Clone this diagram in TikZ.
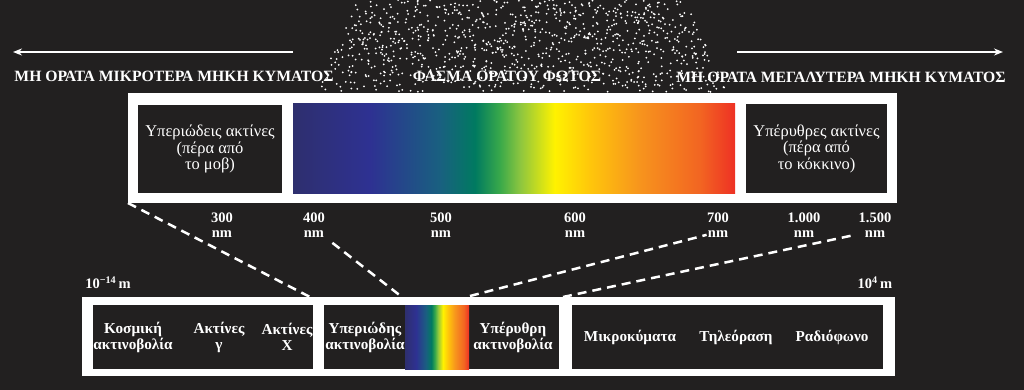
\documentclass[tikz,border=0pt]{standalone}
\usepackage{fontspec}
\setmainfont{Liberation Serif}
\usetikzlibrary{arrows.meta,calc}

\definecolor{fondo}{RGB}{34,32,32}
\definecolor{spA}{RGB}{46,47,110}
\definecolor{spB}{RGB}{46,49,146}
\definecolor{spC}{RGB}{25,96,128}
\definecolor{spD}{RGB}{0,122,96}
\definecolor{spE}{RGB}{57,169,74}
\definecolor{spF}{RGB}{141,198,63}
\definecolor{spG}{RGB}{255,242,0}
\definecolor{spH}{RGB}{255,198,11}
\definecolor{spI}{RGB}{247,148,29}
\definecolor{spJ}{RGB}{242,101,34}
\definecolor{spK}{RGB}{238,49,36}

\pgfdeclarehorizontalshading{luzvisible}{100bp}{color(0bp)=(spA); color(25bp)=(spA);
  color(33.7bp)=(spB); color(41.6bp)=(spC); color(45.6bp)=(spD); color(48.4bp)=(spE);
  color(50.7bp)=(spF); color(54.6bp)=(spG); color(58.6bp)=(spH); color(64.2bp)=(spI);
  color(71bp)=(spJ); color(75bp)=(spK); color(100bp)=(spK)}

\tikzset{
  marco/.style={fill=white, inner sep=0pt, outer sep=0pt},
  caja/.style={fill=fondo, inner sep=0pt, outer sep=0pt},
  espectro/.style={shading=luzvisible, inner sep=0pt, outer sep=0pt},
  titulo/.style={text=white, font=\fontsize{15.7}{18}\selectfont\bfseries},
  longitud/.style={text=white, align=center, font=\fontsize{14.5}{15}\selectfont\bfseries},
  rayos/.style={text=white, align=center, font=\fontsize{16.5}{16.5}\selectfont},
  banda/.style={text=white, align=center, font=\fontsize{15.2}{16}\selectfont\bfseries},
  guia/.style={white, line width=2.5pt, dash pattern=on 9pt off 6pt},
  flecha/.style={white, line width=2pt, -{Stealth[length=9pt,width=7pt]}}
}

\begin{document}
\begin{tikzpicture}[x=1pt,y=-1pt]
    % Fondo
    \useasboundingbox (0,0) rectangle (1024,390);
    \fill[fondo] (0,0) rectangle (1024,390);

    % Haz de puntos
    \pgfmathsetseed{7}
    \foreach \k in {1,...,1000} {
        \pgfmathsetmacro{\py}{rnd*92}
        \pgfmathsetmacro{\pu}{rnd}
        \pgfmathsetmacro{\px}{(355-38*\py/92)+\pu*((685+42*\py/92)-(355-38*\py/92))}
        \fill[white] (\px,\py) circle (1pt);
    }

    % Flechas superiores
    \coordinate (izqA) at (293,52);
    \coordinate (izqB) at (13,52);
    \coordinate (derA) at (737,52);
    \coordinate (derB) at (1003,52);
    \draw[flecha] (izqA) -- (izqB);
    \draw[flecha] (derA) -- (derB);

    % Titulos
    \node[titulo] (tizq) at (174,76) {ΜΗ ΟΡΑΤΑ ΜΙΚΡΟΤΕΡΑ ΜΗΚΗ ΚΥΜΑΤΟΣ};
    \node[titulo] (tmed) at (507,76) {ΦΑΣΜΑ ΟΡΑΤΟΥ ΦΩΤΟΣ};
    \node[titulo] (tder) at (841,77) {ΜΗ ΟΡΑΤΑ ΜΕΓΑΛΥΤΕΡΑ ΜΗΚΗ ΚΥΜΑΤΟΣ};

    % Espectro ampliado
    \node[marco, minimum width=769pt, minimum height=110pt] (marcosup) at (512.5,148) {};
    \node[caja, minimum width=144pt, minimum height=88pt] (uv) at (210,149) {};
    \node[espectro, minimum width=442pt, minimum height=89pt] (visible) at (514,148.5) {};
    \node[caja, minimum width=141pt, minimum height=89pt] (ir) at (816.5,148.5) {};
    \node[rayos] at (uv) {Υπεριώδεις ακτίνες\\(πέρα από\\το μοβ)};
    \node[rayos] at (ir) {Υπέρυθρες ακτίνες\\(πέρα από\\το κόκκινο)};

    % Longitudes de onda
    \node[longitud] (n300) at (222,225) {300\\nm};
    \node[longitud] (n400) at (314,225) {400\\nm};
    \node[longitud] (n500) at (441,225) {500\\nm};
    \node[longitud] (n600) at (575,225) {600\\nm};
    \node[longitud] (n700) at (718,225) {700\\nm};
    \node[longitud] (n1000) at (804,225) {1.000\\nm};
    \node[longitud] (n1500) at (875,225) {1.500\\nm};

    % Extremos de la escala
    \node[longitud] (minimo) at (108,283) {10\textsuperscript{−14}\,m};
    \node[longitud] (maximo) at (875,283) {10\textsuperscript{4}\,m};

    % Espectro completo
    \node[marco, minimum width=813pt, minimum height=79pt] (marcoinf) at (488.5,336.5) {};
    \node[caja, minimum width=220pt, minimum height=64pt] (ionizante) at (203,337) {};
    \node[caja, minimum width=235pt, minimum height=64pt] (optica) at (441.5,337) {};
    \node[espectro, minimum width=64pt, minimum height=64pt] (mini) at (437,337) {};
    \node[caja, minimum width=311pt, minimum height=64pt] (ondas) at (727.5,337) {};
    \node[banda] (cosmica) at (133,337) {Κοσμική\\ακτινοβολία};
    \node[banda] (gamma) at (219,337) {Ακτίνες\\γ};
    \node[banda] (xrays) at (287,337) {Ακτίνες\\Χ};
    \node[banda] (uvrad) at (365,337) {Υπεριώδης\\ακτινοβολία};
    \node[banda] (irrad) at (513,337) {Υπέρυθρη\\ακτινοβολία};
    \node[banda] (micro) at (630,337) {Μικροκύματα};
    \node[banda] (tv) at (736,337) {Τηλεόραση};
    \node[banda] (radio) at (832,337) {Ραδιόφωνο};

    % Lineas de proyeccion
    \coordinate (p1) at (310,297);
    \coordinate (p2) at (402,297);
    \coordinate (p3) at (470,296);
    \coordinate (p4) at (563,297);
    \draw[guia] (marcosup.south west) -- (p1);
    \draw[guia] ($(n400.south east)+(4,2)$) -- (p2);
    \draw[guia] (p3) -- ($(n700.south west)+(3,-6)$);
    \draw[guia] (p4) -- ($(n1500.south west)+(0,-6)$);
\end{tikzpicture}
\end{document}
